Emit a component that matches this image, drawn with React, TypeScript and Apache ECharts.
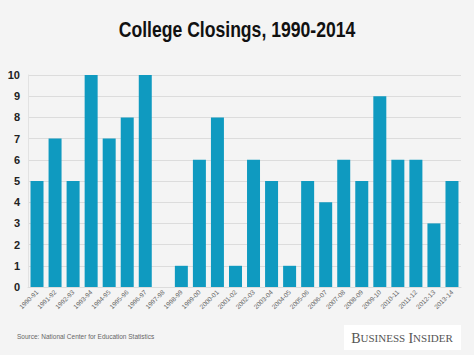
import React, { useEffect, useRef } from "react";
import * as echarts from "echarts";

const categories = [
  "1990-91", "1991-92", "1992-93", "1993-94", "1994-95", "1995-96", "1996-97", "1997-98",
  "1998-99", "1999-00", "2000-01", "2001-02", "2002-03", "2003-04", "2004-05", "2005-06",
  "2006-07", "2007-08", "2008-09", "2009-10", "2010-11", "2011-12", "2012-13", "2013-14",
];
const closings = [5, 7, 5, 10, 7, 8, 10, 0, 1, 6, 8, 1, 6, 5, 1, 5, 4, 6, 5, 9, 6, 6, 3, 5];

export default function App() {
  const ref = useRef<HTMLDivElement>(null);
  useEffect(() => {
    document.body.style.margin = "0";
    const chart = echarts.init(ref.current!, null, { renderer: "svg" });
    chart.setOption({
      animation: false,
      backgroundColor: "#f4f4f4",
      grid: { left: 28, right: 13, top: 75, bottom: 68 },
      xAxis: {
        type: "category",
        data: categories,
        axisLine: { show: true, lineStyle: { color: "#dcdcdc" } },
        axisTick: { show: false },
        axisLabel: {
          rotate: 45,
          interval: 0,
          fontSize: 6.5,
          color: "#666",
          fontFamily: "Liberation Sans, Arial, sans-serif",
          margin: 4,
        },
      },
      yAxis: {
        type: "value",
        min: 0,
        max: 10,
        interval: 1,
        axisLine: { show: true, lineStyle: { color: "#e2e2e2" } },
        axisTick: { show: false },
        splitLine: { lineStyle: { color: "#dcdcdc" } },
        axisLabel: {
          fontSize: 11,
          fontWeight: "bold",
          color: "#222",
          fontFamily: "Liberation Sans, Arial, sans-serif",
          margin: 8,
        },
      },
      series: [
        {
          type: "bar",
          data: closings,
          barCategoryGap: "28%",
          itemStyle: { color: "#0f9ac0" },
        },
      ],
      graphic: [
        {
          type: "text",
          x: 237,
          y: 29,
          scaleX: 0.8,
          style: {
            text: "College Closings, 1990-2014",
            align: "center",
            verticalAlign: "middle",
            fontSize: 22,
            fontWeight: "bold",
            fill: "#111",
            fontFamily: "Liberation Sans, Arial, sans-serif",
          },
        },
        {
          type: "text",
          left: 17,
          top: 333,
          style: {
            text: "Source: National Center for Education Statistics",
            fontSize: 6.5,
            fill: "#666",
            fontFamily: "Liberation Sans, Arial, sans-serif",
          },
        },
        {
          type: "rect",
          shape: { x: 344, y: 325, width: 117, height: 25 },
          style: { fill: "#ffffff" },
        },
        {
          type: "text",
          x: 402,
          y: 338,
          style: {
            text: "{b|B}{s|USINESS} {b|I}{s|NSIDER}",
            align: "center",
            verticalAlign: "middle",
            rich: {
              b: { fontSize: 14, fontFamily: "Liberation Serif, serif", fill: "#555", fontWeight: "normal" },
              s: { fontSize: 11, fontFamily: "Liberation Serif, serif", fill: "#555", fontWeight: "normal" },
            },
          },
        },
      ],
    });
    return () => chart.dispose();
  }, []);
  return <div ref={ref} style={{ width: 474, height: 355 }} />;
}
